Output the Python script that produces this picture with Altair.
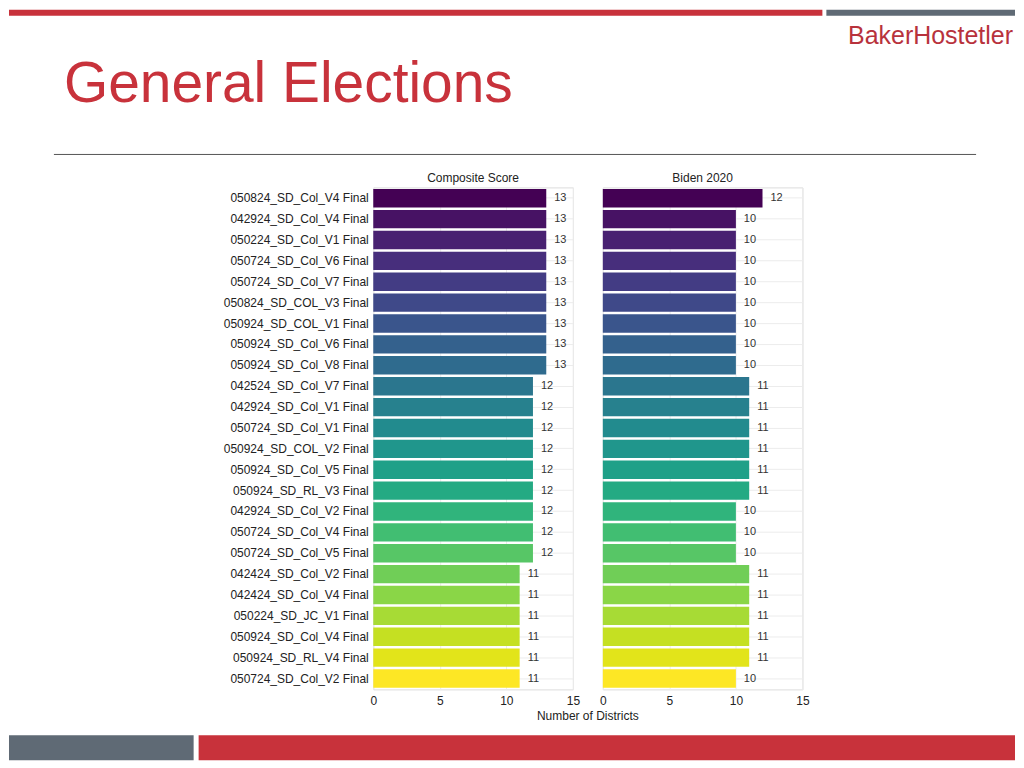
import altair as alt
import pandas as pd

plans = [
    "050824_SD_Col_V4 Final", "042924_SD_Col_V4 Final", "050224_SD_Col_V1 Final",
    "050724_SD_Col_V6 Final", "050724_SD_Col_V7 Final", "050824_SD_COL_V3 Final",
    "050924_SD_COL_V1 Final", "050924_SD_Col_V6 Final", "050924_SD_Col_V8 Final",
    "042524_SD_Col_V7 Final", "042924_SD_Col_V1 Final", "050724_SD_Col_V1 Final",
    "050924_SD_COL_V2 Final", "050924_SD_Col_V5 Final", "050924_SD_RL_V3 Final",
    "042924_SD_Col_V2 Final", "050724_SD_Col_V4 Final", "050724_SD_Col_V5 Final",
    "042424_SD_Col_V2 Final", "042424_SD_Col_V4 Final", "050224_SD_JC_V1 Final",
    "050924_SD_Col_V4 Final", "050924_SD_RL_V4 Final", "050724_SD_Col_V2 Final",
]
composite = [13, 13, 13, 13, 13, 13, 13, 13, 13, 12, 12, 12, 12, 12, 12, 12, 12, 12,
             11, 11, 11, 11, 11, 11]
biden = [12, 10, 10, 10, 10, 10, 10, 10, 10, 11, 11, 11, 11, 11, 11, 10, 10, 10,
         11, 11, 11, 11, 11, 10]
x_ticks = [0, 2.5, 5, 7.5, 10, 12.5, 15]

RED = "#c8323b"
GRAY = "#5f6a75"
FONT = "Liberation Sans"

df = pd.DataFrame({
    "plan": plans,
    "order": list(range(len(plans))),
    "composite": composite,
    "biden": biden,
})

W, H = 200, 503

one = pd.DataFrame({"k": [0]})


def rect(x, x2, y, y2, color):
    return alt.Chart(one).mark_rect(color=color).encode(
        x=alt.value(x), x2=alt.value(x2), y=alt.value(y), y2=alt.value(y2))


def label(text, x, y, size, color, align="left", baseline="alphabetic"):
    return alt.Chart(one).mark_text(
        text=text, align=align, baseline=baseline, fontSize=size, color=color,
        font=FONT,
    ).encode(x=alt.value(x), y=alt.value(y))


def panel(field, title, show_y):
    base = alt.Chart(df)
    y_axis = alt.Axis(
        title=None, ticks=False, domain=False, labelFontSize=12, labelColor="#222",
        labelPadding=5, grid=True, gridColor="#ececec", gridWidth=1,
        labels=show_y,
    )
    x_axis = alt.Axis(
        title=None, values=x_ticks, ticks=False, domain=False, labelFontSize=12,
        labelColor="#222", labelPadding=6, grid=True, gridColor="#ececec",
        labelFlush=False,
        labelExpr="datum.value % 5 == 0 ? datum.label : ''",
    )
    y = alt.Y("plan:N", sort=plans, axis=y_axis,
              scale=alt.Scale(paddingInner=0.12, paddingOuter=0.08))
    bars = base.mark_bar().encode(
        y=y,
        x=alt.X(f"{field}:Q", scale=alt.Scale(domain=[0, 15], nice=False), axis=x_axis),
        color=alt.Color("order:Q", scale=alt.Scale(scheme="viridis"), legend=None),
    )
    labels = base.mark_text(align="left", baseline="middle", dx=8, fontSize=11,
                            color="#333").encode(
        y=alt.Y("plan:N", sort=plans),
        x=alt.X(f"{field}:Q"),
        text=alt.Text(f"{field}:Q"),
    )
    head = label(title, W / 2, -9, 12, "#222", align="center", baseline="middle")
    return [bars, labels, head]


# decorations, in pixel offsets from the left panel's plot origin (page 373,186)
decor = [
    rect(-365, 450, -178, -172, RED),
    rect(454, 643, -178, -172, GRAY),
    label("BakerHostetler", 641, -144, 25, "#b8323c", align="right"),
    label("General Elections", -310, -86, 57, RED),
    alt.Chart(one).mark_rule(color="#555", strokeWidth=1).encode(
        x=alt.value(-320), x2=alt.value(604), y=alt.value(-33)),
    label("Number of Districts", 215, 530, 12, "#222", align="center", baseline="middle"),
    rect(-365, -180, 549, 574, GRAY),
    rect(-175, 643, 549, 574, RED),
]

left = alt.layer(*panel("composite", "Composite Score", True), *decor).properties(
    width=W, height=H)
right = alt.layer(*panel("biden", "Biden 2020", False)).properties(width=W, height=H)

chart = alt.hconcat(left, right, spacing=30, bounds="flush").configure(
    font=FONT, padding=0, autosize=alt.AutoSizeParams(type="pad"),
).configure_view(stroke="#dcdcdc", strokeWidth=1)

chart.save("out.html", embed_options={"renderer": "svg", "actions": False})
